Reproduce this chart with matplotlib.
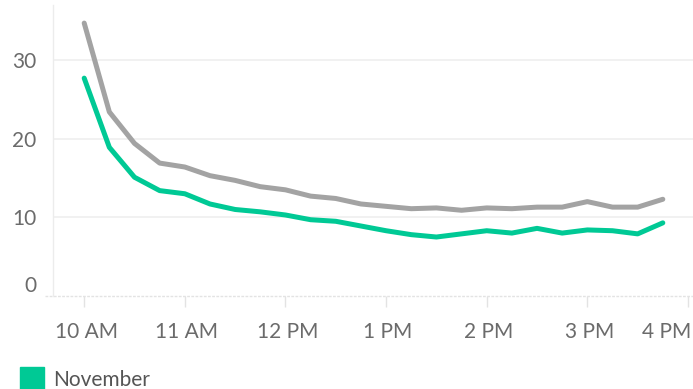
import matplotlib
matplotlib.use("Agg")
import matplotlib.pyplot as plt
import matplotlib.transforms as mtrans
from matplotlib.lines import Line2D
from matplotlib.patches import Rectangle

# Hours after 10 AM, 15-minute steps (10:00 .. 3:45 PM)
hours = [i * 0.25 for i in range(24)]
grey_values = [34.7, 23.4, 19.4, 16.9, 16.4, 15.3, 14.7, 13.9, 13.5, 12.7, 12.4, 11.7,
               11.4, 11.1, 11.2, 10.9, 11.2, 11.1, 11.3, 11.3, 12.0, 11.3, 11.3, 12.3]
november_values = [27.7, 18.9, 15.1, 13.4, 13.0, 11.7, 11.0, 10.7, 10.3, 9.7, 9.5, 8.9,
                   8.3, 7.8, 7.5, 7.9, 8.3, 8.0, 8.6, 8.0, 8.4, 8.3, 7.9, 9.3]
x_ticks = [0, 1, 2, 3, 4, 5, 6]
x_labels = ["10 AM", "11 AM", "12 PM", "1 PM", "2 PM", "3 PM", "4 PM"]
y_ticks = [0, 10, 20, 30]
legend_label = "November"

GREEN = "#00C995"
GREY = "#A3A3A3"
TXT = "#6b6b6b"
FONT = ["Lato", "DejaVu Sans"]

fig = plt.figure(figsize=(6.93, 3.89), dpi=100)
ax = fig.add_axes([53 / 693, 1 - 296 / 389, 1 - 53 / 693, (296 - 5) / 389])

ax.plot(hours, grey_values, color=GREY, lw=3.6, solid_capstyle="round",
        solid_joinstyle="round", zorder=3)
ax.plot(hours, november_values, color=GREEN, lw=3.6, solid_capstyle="round",
        solid_joinstyle="round", zorder=4)

ax.set_xlim(-0.31, 6.05)
ax.set_ylim(0, 37)

ax.set_yticks(y_ticks)
ax.set_yticklabels([str(v) for v in y_ticks], family=FONT, fontsize=15, color=TXT)
ax.set_xticks(x_ticks)
ax.set_xticklabels(x_labels, family=FONT, fontsize=15, color=TXT)

for v in y_ticks[1:]:
    ax.axhline(v, color="#efefef", lw=1.2, zorder=1)

ax.tick_params(axis="y", length=0, pad=12)
ax.tick_params(axis="x", length=8, width=1, color="#e3e3e3", pad=11)

for s in ["top", "right"]:
    ax.spines[s].set_visible(False)
ax.spines["left"].set_color("#ececec")
ax.spines["left"].set_linewidth(1)
ax.spines["bottom"].set_visible(False)
ax.add_line(Line2D([-0.0125, 1], [0, 0], transform=ax.transAxes, color="#e3e3e3",
                   lw=1, linestyle=(0, (2, 1)), clip_on=False, zorder=2))

# shift "0" label up like in reference
lbl0 = ax.yaxis.get_major_ticks()[0].label1
lbl0.set_transform(lbl0.get_transform() + mtrans.ScaledTranslation(0, 12 / 100, fig.dpi_scale_trans))

# shift x labels slightly right; last one kept inside the figure
xt = ax.xaxis.get_major_ticks()
for t in xt[:-1]:
    t.label1.set_transform(t.label1.get_transform() + mtrans.ScaledTranslation(2 / 100, 0, fig.dpi_scale_trans))
xt[-1].label1.set_transform(xt[-1].label1.get_transform() + mtrans.ScaledTranslation(-21 / 100, 0, fig.dpi_scale_trans))

# legend
fig.patches.append(Rectangle((20 / 693, 0), 24 / 693, 22 / 389, transform=fig.transFigure,
                             color=GREEN, zorder=5))
fig.text(53 / 693, 1 - 380 / 389, legend_label, family=FONT, fontsize=15, color="#555555",
         va="center", ha="left")

fig.savefig("out.png", dpi=100, facecolor="white")
